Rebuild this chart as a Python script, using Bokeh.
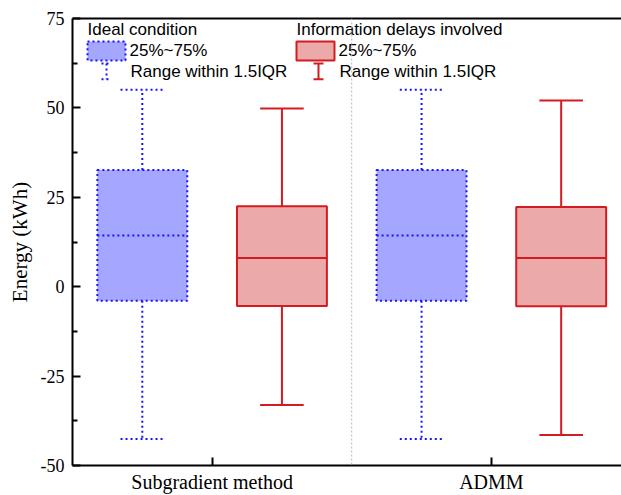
from bokeh.plotting import figure
from bokeh.models import Range1d, FixedTicker, LinearAxis, Span
from bokeh.core.properties import value
from bokeh.embed import file_html
from bokeh.resources import INLINE

# ---------------- data ----------------
categories = ["Subgradient method", "ADMM"]
ideal_upper = [55.1, 55.1]
ideal_q3 = [32.6, 32.6]
ideal_median = [14.3, 14.3]
ideal_q1 = [-3.9, -3.9]
ideal_lower = [-42.6, -42.6]

delay_upper = [49.8, 52.1]
delay_q3 = [22.5, 22.3]
delay_median = [8.0, 8.0]
delay_q1 = [-5.4, -5.5]
delay_lower = [-33.1, -41.5]

y_ticks = [-50, -25, 0, 25, 50, 75]
y_tick_labels = ["-50", "-25", "0", "25", "50", "75"]
y_minor = [-37.5, -12.5, 12.5, 37.5, 62.5]

# ---------------- style ----------------
BLUE_FILL = "#A5A6FF"
BLUE_LINE = "#1414FF"
RED_FILL = "#EBA9A9"
RED_LINE = "#D21C22"
DOT = "2 3"
SERIF = "Liberation Serif"
SANS = "Liberation Sans"

X0, X1 = 0.5, 2.466
Y0, Y1 = -50, 75
W, H = 621, 495
ML, MR, MT, MB = 72, 0, 18, 29

p = figure(width=W, height=H, x_range=Range1d(X0, X1), y_range=Range1d(Y0, Y1),
           output_backend="svg", toolbar_location=None,
           min_border_left=ML, min_border_right=MR, min_border_top=MT, min_border_bottom=MB)
p.xgrid.visible = False
p.ygrid.visible = False
p.outline_line_color = None
p.background_fill_color = "white"
p.border_fill_color = "white"

# axes
for ax in (p.xaxis[0], p.yaxis[0]):
    ax.axis_line_width = 2
    ax.major_tick_line_width = 2
    ax.minor_tick_line_width = 2
    ax.major_tick_in = 8
    ax.major_tick_out = 0
    ax.minor_tick_in = 5
    ax.minor_tick_out = 0
    ax.major_label_text_font = SERIF
    ax.major_label_text_color = "black"
    ax.axis_label_text_font = SERIF
    ax.axis_label_text_font_style = "normal"
    ax.axis_label_text_color = "black"

p.yaxis.ticker = FixedTicker(ticks=y_ticks, minor_ticks=y_minor)
p.yaxis.major_label_overrides = {t: s for t, s in zip(y_ticks, y_tick_labels)}
p.yaxis.major_label_text_font_size = "18px"
p.yaxis.axis_label = "Energy (kWh)"
p.yaxis.axis_label_text_font_size = "21px"
p.yaxis.major_label_standoff = 8
p.yaxis.axis_label_standoff = 6

cat_pos = [i + 1 for i in range(len(categories))]
p.xaxis.ticker = FixedTicker(ticks=cat_pos, minor_ticks=[])
p.xaxis.major_label_overrides = {c: name for c, name in zip(cat_pos, categories)}
p.xaxis.major_label_text_font_size = "20px"
p.xaxis.major_label_standoff = 5

top = LinearAxis(ticker=FixedTicker(ticks=[], minor_ticks=[]), axis_line_width=2,
                 major_tick_in=0, major_tick_out=0, minor_tick_in=0, minor_tick_out=0,
                 major_label_text_font_size="0px")
p.add_layout(top, "above")

# separator
p.add_layout(Span(location=1.5, dimension="height", line_color="#b5b5b5",
                  line_width=1, line_dash="2 2"))

# ---------------- boxes ----------------
OFF = 0.25
BW = 0.161
CAP = 0.078


def draw_box(pos, upper, q3, med, q1, lower, fill, line, dash):
    left = [x - BW for x in pos]
    right = [x + BW for x in pos]
    p.segment(x0=pos, y0=q3, x1=pos, y1=upper, line_color=line, line_width=2, line_dash=dash)
    p.segment(x0=pos, y0=q1, x1=pos, y1=lower, line_color=line, line_width=2, line_dash=dash)
    p.segment(x0=[x - CAP for x in pos], y0=upper, x1=[x + CAP for x in pos], y1=upper,
              line_color=line, line_width=2, line_dash=dash)
    p.segment(x0=[x - CAP for x in pos], y0=lower, x1=[x + CAP for x in pos], y1=lower,
              line_color=line, line_width=2, line_dash=dash)
    p.quad(left=left, right=right, top=q3, bottom=q1, fill_color=fill,
           line_color=line, line_width=2, line_dash=dash)
    p.segment(x0=left, y0=med, x1=right, y1=med, line_color=line, line_width=2, line_dash=dash)


ideal_pos = [c - OFF for c in cat_pos]
delay_pos = [c + OFF for c in cat_pos]
draw_box(ideal_pos, ideal_upper, ideal_q3, ideal_median, ideal_q1, ideal_lower,
         BLUE_FILL, BLUE_LINE, DOT)
draw_box(delay_pos, delay_upper, delay_q3, delay_median, delay_q1, delay_lower,
         RED_FILL, RED_LINE, "solid")

# ---------------- legend (layout in pixels -> data) ----------------
FW = W - ML - MR
FH = H - MT - MB
LFS = "17px"


def px_x(px):
    return X0 + (px - ML) / FW * (X1 - X0)


def px_y(py):
    return Y1 - (py - MT) / FH * (Y1 - Y0)


def legend_block(x_left, title, fill, line, dash):
    p.text(x=[px_x(x_left)], y=[px_y(29)], text=[title], text_font=value(SANS),
           text_font_size=LFS, text_baseline="middle", text_align="left", text_color="black")
    p.quad(left=[px_x(x_left)], right=[px_x(x_left + 38)], top=[px_y(41)], bottom=[px_y(60)],
           fill_color=fill, line_color=line, line_width=2, line_dash=dash)
    p.text(x=[px_x(x_left + 42)], y=[px_y(50)], text=["25%~75%"], text_font=value(SANS),
           text_font_size=LFS, text_baseline="middle", text_align="left", text_color="black")
    cx = x_left + 19 if dash != "solid" else x_left + 22
    p.segment(x0=[px_x(cx)], y0=[px_y(63)], x1=[px_x(cx)], y1=[px_y(79)],
              line_color=line, line_width=2, line_dash=dash)
    p.segment(x0=[px_x(cx - 5), px_x(cx - 5)], y0=[px_y(63), px_y(79)],
              x1=[px_x(cx + 5), px_x(cx + 5)], y1=[px_y(63), px_y(79)],
              line_color=line, line_width=2, line_dash=dash)
    p.text(x=[px_x(x_left + 43)], y=[px_y(71)], text=["Range within 1.5IQR"], text_font=value(SANS),
           text_font_size=LFS, text_baseline="middle", text_align="left", text_color="black")


legend_block(87, "Ideal condition", BLUE_FILL, BLUE_LINE, DOT)
legend_block(296, "Information delays involved", RED_FILL, RED_LINE, "solid")

open("out.html", "w").write(file_html(p, INLINE))
